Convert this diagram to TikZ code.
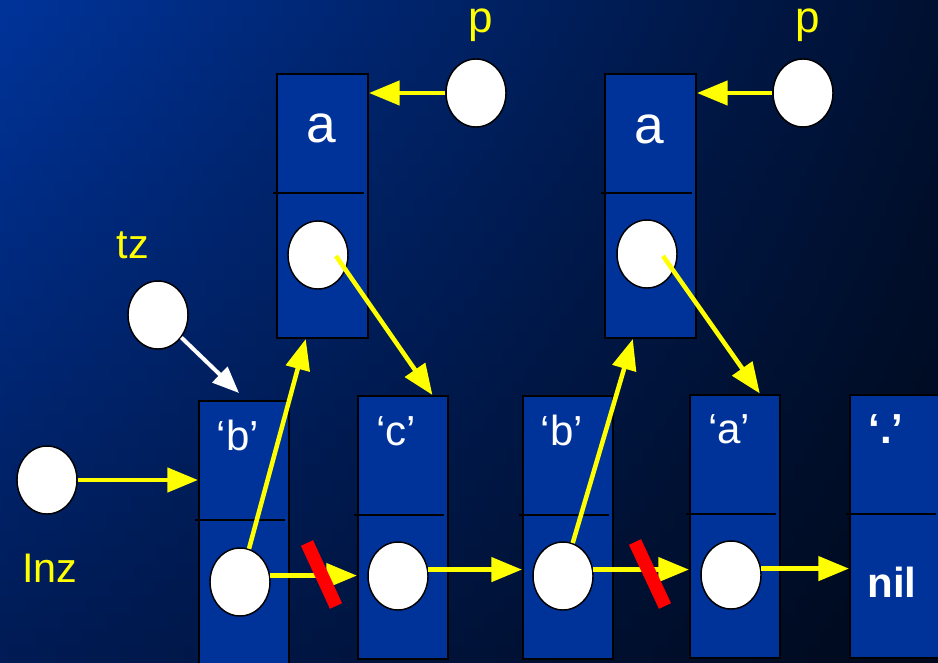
\documentclass[tikz,border=0pt]{standalone}
\usepackage{fontspec}
\setmainfont{Liberation Sans}
\usetikzlibrary{arrows.meta,calc,shapes.geometric}
\definecolor{boxblue}{RGB}{0,51,153}
\definecolor{yel}{RGB}{255,255,0}
\definecolor{redbar}{RGB}{255,0,0}
\definecolor{bgtl}{RGB}{0,51,153}
\definecolor{bgtr}{RGB}{0,16,48}
\definecolor{bgbl}{RGB}{0,27,85}
\definecolor{bgbr}{RGB}{0,9,26}
\begin{document}
\begin{tikzpicture}[x=0.75pt,y=-0.75pt,
  box/.style={draw=black, line width=1.5pt, fill=boxblue, rectangle, inner sep=0pt, minimum width=67.5pt, minimum height=197.25pt},
  ubox/.style={box, minimum width=68.25pt, minimum height=198pt},
  dot/.style={ellipse, draw=black, line width=1.1pt, fill=white, inner sep=0pt, minimum width=45pt, minimum height=51pt},
  yarrow/.style={draw=yel, line width=3.4pt, -{Triangle[length=23pt,width=18pt]}},
  warrow/.style={draw=white, line width=3pt, -{Triangle[length=20pt,width=16pt]}},
  divline/.style={draw=black, line width=1.5pt},
  cut/.style={draw=redbar, line width=10pt},
  lab/.style={text=white, font=\fontsize{31.5}{36}\selectfont, anchor=base, inner sep=0pt},
  boldlab/.style={lab, font=\fontsize{31.5}{36}\selectfont\bfseries},
  biglab/.style={lab, font=\fontsize{40}{46}\selectfont},
  ylab/.style={text=yel, font=\fontsize{31}{36}\selectfont, anchor=base, inner sep=0pt},
  plab/.style={ylab, font=\fontsize{33}{38}\selectfont}
]
\useasboundingbox (0,0) rectangle (938,663);
% background: horizontal gradient darkened towards the bottom
\foreach \i in {0,...,39}{
  \pgfmathsetmacro\pct{100-\i*100/39}
  \shade[left color=bgtl!\pct!bgbl, right color=bgtr!\pct!bgbr] (0,{\i*16.575}) rectangle (938,{\i*16.575+17.5});
}

% upper boxes
\node[ubox] (ub1) at (322.5,206) {};
\node[ubox] (ub2) at (650.5,206) {};
% lower boxes
\node[box, minimum height=198.75pt] (bb1) at (244,533.5) {};
\node[box] (bc) at (403,527.5) {};
\node[box] (bb2) at (568,527.5) {};
\node[box] (ba) at (735,526) {};
\node[box] (bd) at (895,526) {};

% dividers
\foreach \b in {ub1,ub2,bb1,bc,bb2,ba,bd}{
  \draw[divline] ($(\b.north west)+(-3,120)$) -- ($(\b.north east)+(-5,120)$);
}

% labels
\node[biglab] (la1) at (321,143) {a};
\node[biglab] (la2) at (649,144) {a};
\node[lab] (lb1) at (238,450) {‘b’};
\node[lab] (lc) at (396,445) {‘c’};
\node[lab] (lb2) at (562,445) {‘b’};
\node[lab] (lta) at (729,443) {‘a’};
\node[boldlab] (ldot) at (886,443) {‘.’};
\node[boldlab] (lnil) at (892,597) {nil};
\node[plab] (lp1) at (481,33) {p};
\node[plab] (lp2) at (808,33) {p};
\node[ylab] (ltz) at (133,258) {tz};
\node[ylab] (llnz) at (50,582) {Inz};

% pointer circles
\node[dot] (p1) at (476,93) {};
\node[dot] (p2) at (803,93) {};
\node[dot] (c1) at (318,255) {};
\node[dot] (c2) at (647,254) {};
\node[dot] (tz) at (158,315) {};
\node[dot] (lnz) at (47,480) {};
\node[dot] (cb1) at (240,582) {};
\node[dot] (cc) at (398,576) {};
\node[dot] (cb2) at (563,576) {};
\node[dot] (ca) at (731,575) {};

% helper coordinates
\coordinate (c1s) at ($(c1)+(18,1)$);
\coordinate (c2s) at ($(c2)+(16,2)$);
\coordinate (tztip) at (239,393);

% arrows
\draw[yarrow] (p1.west) -- (p1.west -| ub1.east);
\draw[yarrow] (p2.west) -- (p2.west -| ub2.east);
\draw[yarrow] (c1s) -- ($(bc.north west)!0.82!(bc.north east)$);
\draw[yarrow] (c2s) -- ($(ba.north west)!0.77!(ba.north east)$);
\draw[yarrow] (cb1) -- ($(ub1.south west)!0.32!(ub1.south east)$);
\draw[yarrow] (cb2) -- ($(ub2.south west)!0.31!(ub2.south east)$);
\draw[warrow] (tz) -- (tztip);
\draw[yarrow] (lnz) -- (lnz -| bb1.west);
\draw[yarrow] (cb1.12) -- (cb1.12 -| bc.west);
\draw[yarrow] (cc.12) -- (cc.12 -| bb2.west);
\draw[yarrow] (cb2.12) -- (cb2.12 -| ba.west);
\draw[yarrow] (ca.12) -- (ca.12 -| bd.west);

% cut marks
\draw[cut] (307,543) -- (336,606);
\draw[cut] (635,542) -- (665,606);
\end{tikzpicture}
\end{document}
